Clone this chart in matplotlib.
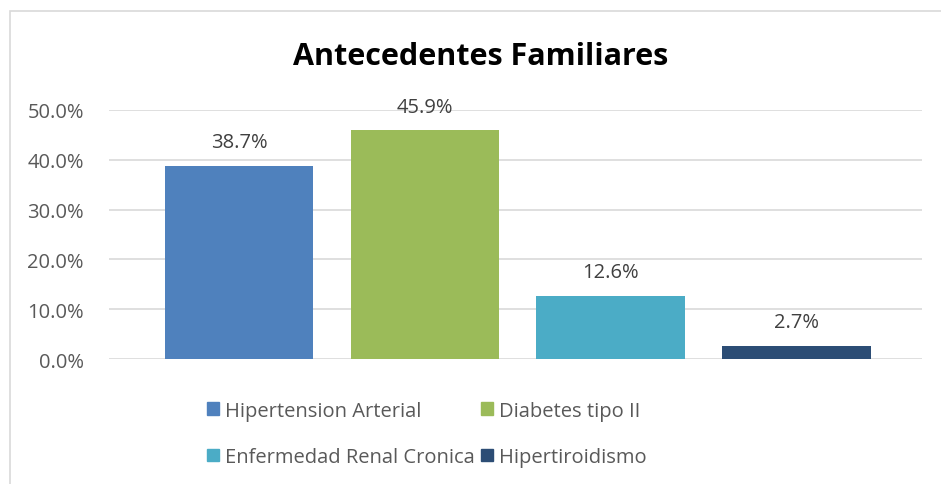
import matplotlib
matplotlib.use('Agg')
from matplotlib import pyplot as plt
from matplotlib.patches import Rectangle, Patch
from matplotlib.ticker import PercentFormatter

series = ['Hipertension Arterial', 'Diabetes tipo II', 'Enfermedad Renal Cronica', 'Hipertiroidismo']
values = [38.7, 45.9, 12.6, 2.7]
colors = ['#4F81BD', '#9BBB59', '#4BACC6', '#2C4D75']
yticks = [0, 10, 20, 30, 40, 50]

def main():
	plt.rcParams['font.family'] = ['Open Sans', 'DejaVu Sans']
	fig = plt.figure(figsize=(9.41, 4.85), dpi=100)
	fig.patches.append(Rectangle((10 / 941, -0.01), 1.0, 1 - 12 / 485 + 0.01, transform=fig.transFigure,
		fill=False, edgecolor='#d9d9d9', linewidth=1.2))

	ax = fig.add_axes([109 / 941, 125 / 485, 813 / 941, 249 / 485])
	x = list(range(len(values)))
	bars = ax.bar(x, values, width=0.8, color=colors, zorder=3)
	for b, v in zip(bars, values):
		ax.annotate(f'{v:.1f}%', (b.get_x() + b.get_width() / 2, v), xytext=(0, 10), textcoords='offset points',
			ha='center', va='bottom', fontsize=14.5, color='#404040')

	ax.set_ylim(0, 50)
	ax.set_xlim(-0.70, 3.675)
	ax.set_yticks(yticks)
	ax.yaxis.set_major_formatter(PercentFormatter(decimals=1))
	ax.grid(axis='y', color='#d9d9d9', linewidth=1.2, zorder=0)
	ax.set_xticks([])
	for s in ax.spines.values():
		s.set_visible(False)
	ax.tick_params(axis='y', length=0, pad=18, labelsize=14.5, labelcolor='#595959')

	fig.text(481 / 941, 1 - 57 / 485, 'Antecedentes Familiares', ha='center', va='center',
		fontsize=22, fontweight='bold', color='black')

	# legend fills column by column, so reorder to get the rows right
	order = [0, 2, 1, 3]
	handles = [Patch(color=colors[i], label=series[i]) for i in order]
	fig.legend(handles=handles, ncol=2, loc='center', bbox_to_anchor=(427 / 941, 1 - 435 / 485),
		frameon=False, fontsize=14.5, labelcolor='#595959', handlelength=0.6, handleheight=0.6,
		handletextpad=0.3, columnspacing=0.3, labelspacing=1.3)

	fig.savefig('out.png', dpi=100)

if __name__ == '__main__':
	main()
